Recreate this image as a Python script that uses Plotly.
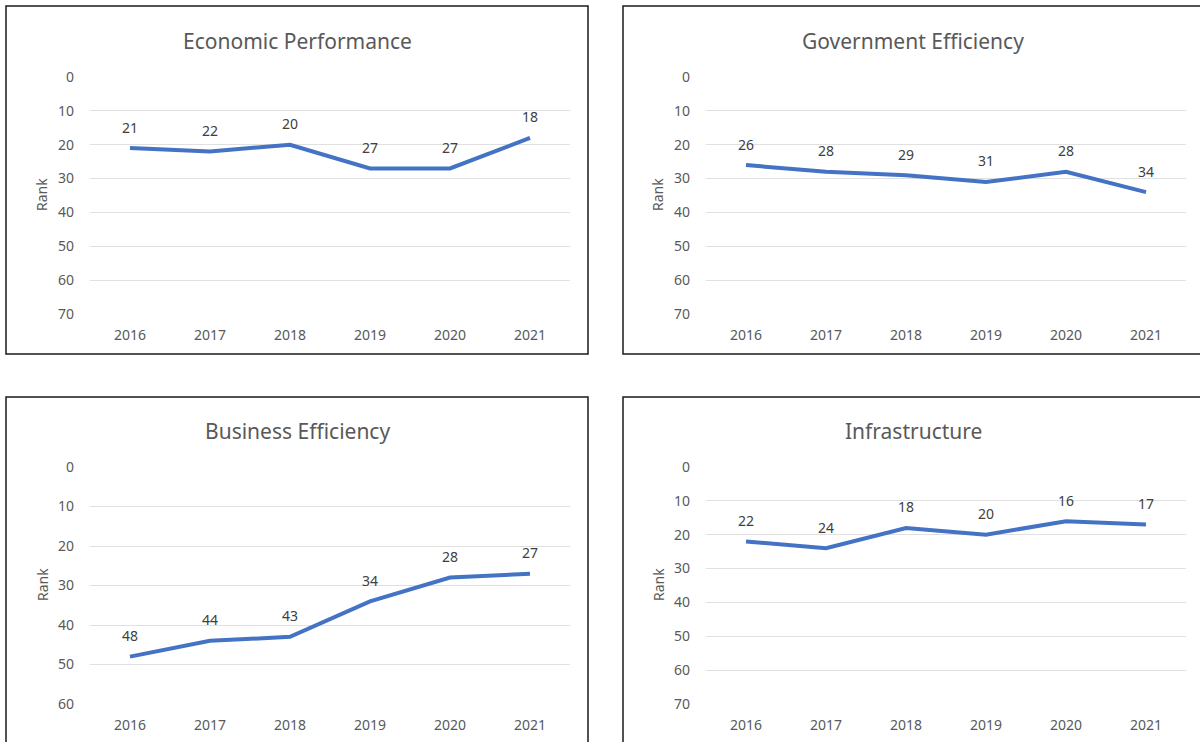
import plotly.graph_objects as go

years = [2016, 2017, 2018, 2019, 2020, 2021]
titles = ["Economic Performance", "Government Efficiency", "Business Efficiency", "Infrastructure"]
economic = [21, 22, 20, 27, 27, 18]
government = [26, 28, 29, 31, 28, 34]
business = [48, 44, 43, 34, 28, 27]
infrastructure = [22, 24, 18, 20, 16, 17]
series = [economic, government, business, infrastructure]
y_max = [70, 70, 60, 70]

W, H = 1200, 742
FONT = "Noto Sans"
LINE = "#4472C4"
GRID = "#E0E0E0"
TXT = "#595959"

def px(x):
    return x / W

def py(y):
    return 1 - y / H

panels = [
    dict(l=90, r=570, t=77, b=314, box=(6, 6, 588, 354), ty=41, tx=297, rx=42, ry=195),
    dict(l=706, r=1186, t=77, b=314, box=(623, 6, 1210, 354), ty=41, tx=913, rx=658, ry=195),
    dict(l=90, r=570, t=467, b=704, box=(6, 397, 588, 760), ty=431, tx=297, rx=42, ry=585),
    dict(l=706, r=1186, t=467, b=704, box=(623, 397, 1210, 760), ty=431, tx=913, rx=658, ry=585),
]

fig = go.Figure()
annotations = []
shapes = []
for i, (vals, p) in enumerate(zip(series, panels)):
    n = i + 1
    xa = "x" if n == 1 else f"x{n}"
    ya = "y" if n == 1 else f"y{n}"
    fig.add_trace(go.Scatter(x=years, y=vals, mode="lines", xaxis=xa, yaxis=ya,
                             line=dict(color=LINE, width=4), showlegend=False,
                             hoverinfo="x+y"))
    for yr, v in zip(years, vals):
        annotations.append(dict(x=yr, y=v, xref=xa, yref=ya, text=str(v), showarrow=False,
                                xanchor="center", yanchor="middle", yshift=21,
                                font=dict(family=FONT, size=14, color="#404040")))
    annotations.append(dict(x=px(p["tx"]), y=py(p["ty"]), xref="paper", yref="paper",
                            text=titles[i], showarrow=False, xanchor="center", yanchor="middle",
                            font=dict(family=FONT, size=21, color=TXT)))
    annotations.append(dict(x=px(p["rx"]), y=py(p["ry"]), xref="paper", yref="paper",
                            text="Rank", showarrow=False, textangle=-90, xanchor="center",
                            yanchor="middle", font=dict(family=FONT, size=14, color=TXT)))
    x0, y0, x1, y1 = p["box"]
    shapes.append(dict(type="rect", xref="paper", yref="paper", x0=px(x0), x1=px(x1),
                       y0=py(y1), y1=py(y0), line=dict(color="#1a1a1a", width=1.5)))
    xkey = "xaxis" if n == 1 else f"xaxis{n}"
    ykey = "yaxis" if n == 1 else f"yaxis{n}"
    fig.update_layout(**{
        xkey: dict(domain=[px(p["l"]), px(p["r"])], anchor=ya, type="linear",
                   range=[years[0] - 0.5, years[-1] + 0.5], tickvals=years,
                   ticktext=[str(y) for y in years],
                   showgrid=False, showline=False, zeroline=False, automargin=False,
                   ticks="", ticklabelstandoff=11,
                   tickfont=dict(family=FONT, size=14, color=TXT)),
        ykey: dict(domain=[py(p["b"]), py(p["t"])], anchor=xa, range=[y_max[i], 0],
                   dtick=10, tick0=0, showgrid=True, gridcolor=GRID, gridwidth=1, zeroline=False,
                   showline=False, ticks="", ticklabelstandoff=15, automargin=False,
                   tickfont=dict(family=FONT, size=14, color=TXT)),
    })

fig.update_layout(template="none", width=W, height=H,
                  margin=dict(l=0, r=0, t=0, b=0, pad=0, autoexpand=False),
                  paper_bgcolor="white", plot_bgcolor="white", showlegend=False,
                  annotations=annotations, shapes=shapes)

fig.write_html("out.html")
